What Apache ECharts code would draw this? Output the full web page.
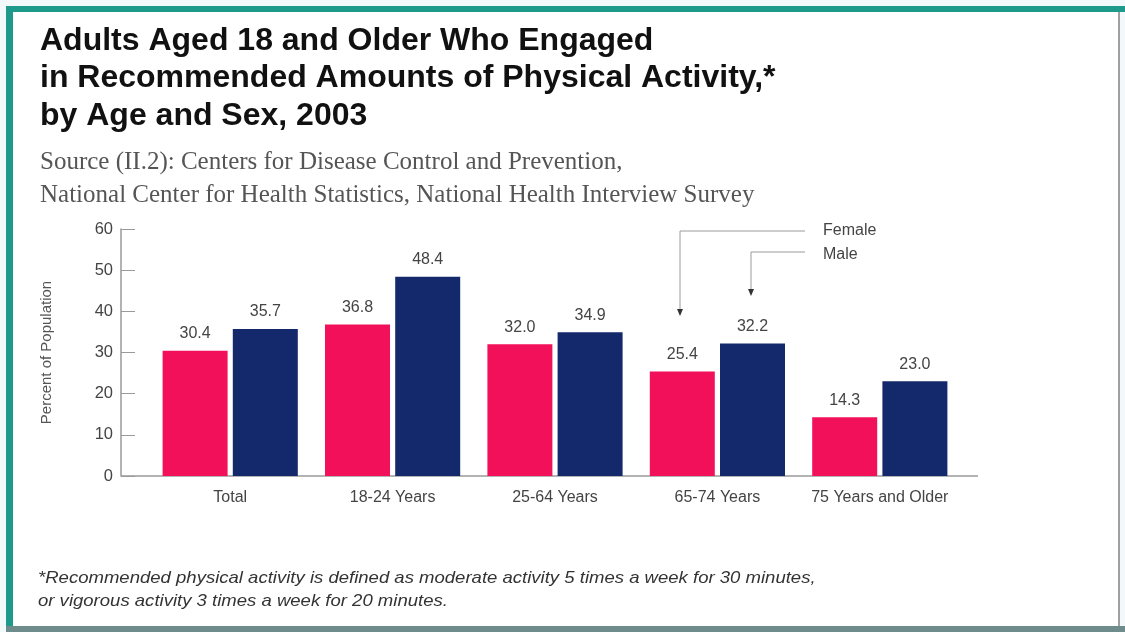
<!DOCTYPE html>
<html><head><meta charset="utf-8">
<script src="https://cdn.jsdelivr.net/npm/echarts@6/dist/echarts.min.js"></script>
<style>html,body{margin:0;padding:0;background:#f3f8fb}#c{width:1125px;height:632px}</style>
</head><body><div id="c"></div>
<script>
const categories = ['Total', '18-24 Years', '25-64 Years', '65-74 Years', '75 Years and Older'];
const female = [30.4, 36.8, 32.0, 25.4, 14.3];
const male = [35.7, 48.4, 34.9, 32.2, 23.0];
const yTicks = [0, 10, 20, 30, 40, 50, 60];
const titleLines = ['Adults Aged 18 and Older Who Engaged', 'in Recommended Amounts of Physical Activity,*', 'by Age and Sex, 2003'];
const sourceLines = ['Source (II.2): Centers for Disease Control and Prevention,', 'National Center for Health Statistics, National Health Interview Survey'];
const footLines = ['*Recommended physical activity is defined as moderate activity 5 times a week for 30 minutes,', 'or vigorous activity 3 times a week for 20 minutes.'];

const chart = echarts.init(document.getElementById('c'));
const gray = '#9a9a9a';
const ff = '"Liberation Sans", Arial, sans-serif';
const lbl = {show: true, position: 'top', distance: 9, color: '#444', fontFamily: ff, fontSize: 16, formatter: p => p.value.toFixed(1)};
chart.setOption({
  animation: false,
  backgroundColor: '#f3f8fb',
  graphic: [
    {type: 'rect', shape: {x: 6, y: 6, width: 1114, height: 626}, style: {fill: '#ffffff'}, z: -10},
    {type: 'rect', shape: {x: 6, y: 6, width: 1119, height: 6}, style: {fill: '#1d9a8c'}},
    {type: 'rect', shape: {x: 6, y: 6, width: 7, height: 626}, style: {fill: '#1d9a8c'}},
    {type: 'rect', shape: {x: 1118, y: 12, width: 2, height: 614}, style: {fill: '#a0a0a0'}},
    {type: 'rect', shape: {x: 6, y: 626, width: 1119, height: 6}, style: {fill: '#6e8c8c'}},
    {type: 'text', x: 40, y: 22, style: {text: titleLines.join('\n'), font: 'bold 32px "Liberation Sans", Arial', lineHeight: 37.5, fill: '#111'}},
    {type: 'text', x: 40, y: 146, style: {text: sourceLines.join('\n'), font: '25px "Liberation Serif", serif', lineHeight: 33, fill: '#555'}},
    {type: 'text', x: 38, y: 567, scaleX: 1.09, style: {text: footLines.join('\n'), font: 'italic 17px "Liberation Sans", Arial', lineHeight: 23, fill: '#333'}},
    {type: 'line', shape: {x1: 121, y1: 476, x2: 978, y2: 476}, style: {stroke: gray, lineWidth: 1.5}},
    {type: 'text', x: 823, y: 219, style: {text: 'Female\nMale', font: '16px "Liberation Sans", Arial', lineHeight: 24, fill: '#444'}},
    {type: 'polyline', shape: {points: [[805, 231], [680, 231], [680, 310]]}, style: {stroke: gray, lineWidth: 1, fill: null}},
    {type: 'polygon', shape: {points: [[677, 309], [683, 309], [680, 316]]}, style: {fill: '#333'}},
    {type: 'polyline', shape: {points: [[805, 252], [751, 252], [751, 290]]}, style: {stroke: gray, lineWidth: 1, fill: null}},
    {type: 'polygon', shape: {points: [[748, 289], [754, 289], [751, 296]]}, style: {fill: '#333'}}
  ],
  grid: {left: 149, right: 164, top: 229, bottom: 156},
  xAxis: {
    type: 'category', data: categories,
    axisLine: {show: false}, axisTick: {show: false},
    axisLabel: {interval: 0, color: '#444', fontSize: 16, fontFamily: ff, margin: 14}
  },
  yAxis: {
    type: 'value', min: yTicks[0], max: yTicks[yTicks.length - 1], interval: 10, offset: 28,
    name: 'Percent of Population', nameLocation: 'middle', nameGap: 67, nameRotate: 90,
    nameTextStyle: {color: '#555', fontSize: 15, fontFamily: ff},
    axisLine: {show: true, lineStyle: {color: gray, width: 1.5}},
    axisTick: {show: true, inside: true, length: 14, lineStyle: {color: gray}},
    splitLine: {show: false},
    axisLabel: {color: '#444', fontSize: 16.5, fontFamily: ff, margin: 8}
  },
  series: [
    {name: 'Female', type: 'bar', data: female, barWidth: 65, barGap: '8%', itemStyle: {color: '#f2105a'}, label: lbl},
    {name: 'Male', type: 'bar', data: male, barWidth: 65, itemStyle: {color: '#14296b'}, label: lbl}
  ]
});
</script></body></html>
